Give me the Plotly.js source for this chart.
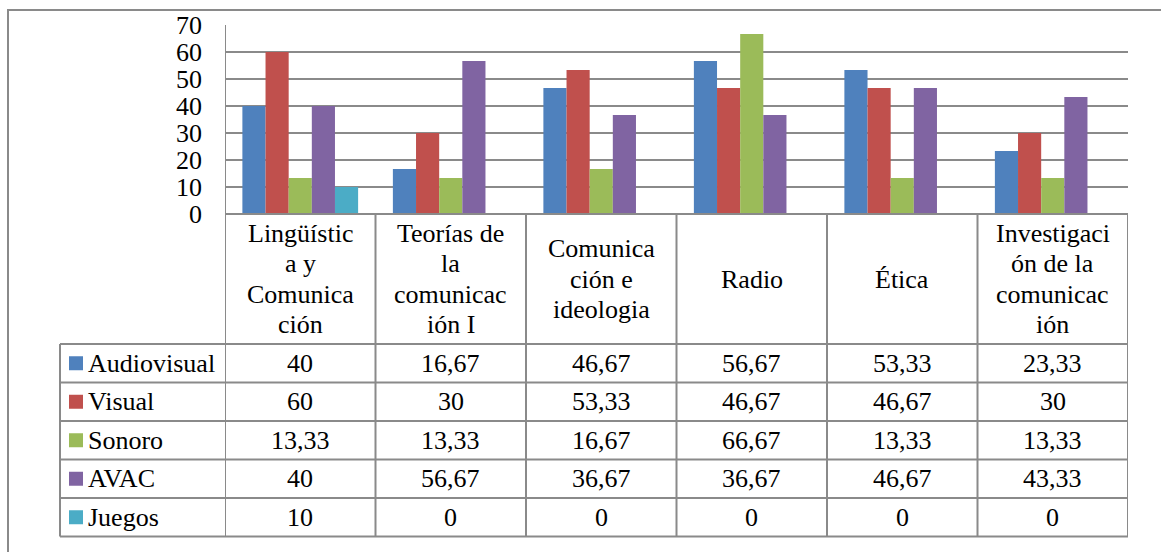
<!DOCTYPE html>
<html>
<head>
<meta charset="utf-8">
<script src="https://cdn.plot.ly/plotly-3.0.1.min.js"></script>
<style>html,body{margin:0;padding:0;background:#fff;font-family:'Liberation Serif',serif;}#chart{width:1161px;height:552px;}</style>
</head>
<body>
<div id="chart"></div>
<script>
const categories = ["Lingüística y Comunicación", "Teorías de la comunicación I", "Comunicación e ideologia", "Radio", "Ética", "Investigación de la comunicación"];
const categoryLabels = ["Lingüístic<br>a y<br>Comunica<br>ción", "Teorías de<br>la<br>comunicac<br>ión I", "Comunica<br>ción e<br>ideologia", "Radio", "Ética", "Investigaci<br>ón de la<br>comunicac<br>ión"];
const seriesNames = ["Audiovisual", "Visual", "Sonoro", "AVAC", "Juegos"];
const audiovisual = [40, 16.67, 46.67, 56.67, 53.33, 23.33];
const visual = [60, 30, 53.33, 46.67, 46.67, 30];
const sonoro = [13.33, 13.33, 16.67, 66.67, 13.33, 13.33];
const avac = [40, 56.67, 36.67, 36.67, 46.67, 43.33];
const juegos = [10, 0, 0, 0, 0, 0];
const seriesColors = ["#4F81BD", "#C0504D", "#9BBB59", "#8064A2", "#4BACC6"];
const yTicks = [0, 10, 20, 30, 40, 50, 60, 70];

const seriesValues = [audiovisual, visual, sonoro, avac, juegos];

// layout geometry (pixels)
const W = 1161, H = 552;
const PL = 225, PR = 1128, PT = 25, PB = 214;
const pw = PR - PL, ph = PB - PT;
const px = v => (v - PL) / pw;
const py = v => (PB - v) / ph;
const headerBottom = 344;
const rowH = 38.5;
const lineGap = 30.5;
const legendLeft = 60;
const lineColor = "#8a8a8a";
const FONT = "Liberation Serif";
const FS = 26;
const tf = () => ({family: FONT, size: FS, color: "#000000"});

function draw() {
  const traces = seriesNames.map((name, i) => ({
    type: "bar",
    name: name,
    x: categories,
    y: seriesValues[i],
    marker: {color: seriesColors[i], line: {width: 0}},
    hoverinfo: "x+y+name"
  }));

  const shapes = [];
  const annotations = [];
  const line = (xref, x0, x1, y0, y1) => shapes.push({type: "line", xref: xref, yref: "paper", x0: x0, x1: x1, y0: y0, y1: y1, line: {color: lineColor, width: 2}});

  const tableBottom = headerBottom + rowH * seriesNames.length;
  shapes.push({type: "rect", xref: "paper", yref: "paper", x0: px(8), x1: px(W + 20), y0: py(10), y1: py(H + 20), line: {color: lineColor, width: 2}, fillcolor: "rgba(0,0,0,0)", layer: "below"});
  for (let c = 0; c <= categories.length; c++) {
    const yTop = (c === 0) ? py(PT) : py(PB);
    line("x", c - 0.5, c - 0.5, yTop, py(tableBottom));
  }
  line("paper", px(legendLeft), px(legendLeft), py(headerBottom), py(tableBottom));
  line("x", -0.5, categories.length - 0.5, py(PB), py(PB));
  for (let r = 0; r <= seriesNames.length; r++) {
    const yy = headerBottom + r * rowH;
    shapes.push({type: "line", xref: "paper", yref: "paper", x0: px(legendLeft), x1: 1, y0: py(yy), y1: py(yy), line: {color: lineColor, width: 2}});
  }
  const headerMid = (PB + headerBottom) / 2;
  categories.forEach((cat, c) => {
    const parts = categoryLabels[c].split("<br>");
    parts.forEach((t, k) => {
      const yc = headerMid + (k - (parts.length - 1) / 2) * lineGap;
      annotations.push({xref: "x", yref: "paper", x: c, y: py(yc), text: t, showarrow: false, xanchor: "center", yanchor: "middle", font: tf()});
    });
  });
  const fmt = v => String(v).replace(".", ",");
  seriesNames.forEach((name, r) => {
    const yc = headerBottom + (r + 0.5) * rowH;
    shapes.push({type: "rect", xref: "paper", yref: "paper", x0: px(69), x1: px(83), y0: py(yc - 7), y1: py(yc + 7), line: {width: 0}, fillcolor: seriesColors[r]});
    annotations.push({xref: "paper", yref: "paper", x: px(86), y: py(yc), text: name, showarrow: false, xanchor: "left", yanchor: "middle", font: tf()});
    categories.forEach((cat, c) => {
      annotations.push({xref: "x", yref: "paper", x: c, y: py(yc), text: fmt(seriesValues[r][c]), showarrow: false, xanchor: "center", yanchor: "middle", font: tf()});
    });
  });

  const layout = {
    width: W, height: H,
    margin: {l: PL, r: W - PR, t: PT, b: H - PB, pad: 0},
    paper_bgcolor: "#fff", plot_bgcolor: "#fff",
    font: {family: FONT, size: FS, color: "#000000"},
    showlegend: false,
    barmode: "group",
    bargap: 0.231,
    bargroupgap: 0,
    xaxis: {type: "category", range: [-0.5, categories.length - 0.5], showticklabels: false, showgrid: false, zeroline: false, showline: false, ticks: "", fixedrange: true},
    yaxis: {range: [0, 70], tickvals: yTicks, ticktext: yTicks.map(String), showgrid: true, gridcolor: lineColor, gridwidth: 2, zeroline: false, showline: false, ticks: "", ticklabelstandoff: 22, tickfont: tf(), fixedrange: true},
    shapes: shapes,
    annotations: annotations
  };

  Plotly.newPlot("chart", traces, layout, {displayModeBar: false, staticPlot: true});
}

if (document.fonts && document.fonts.load) {
  document.fonts.load("26px 'Liberation Serif'").then(draw, draw);
} else {
  draw();
}
</script>
</body>
</html>
